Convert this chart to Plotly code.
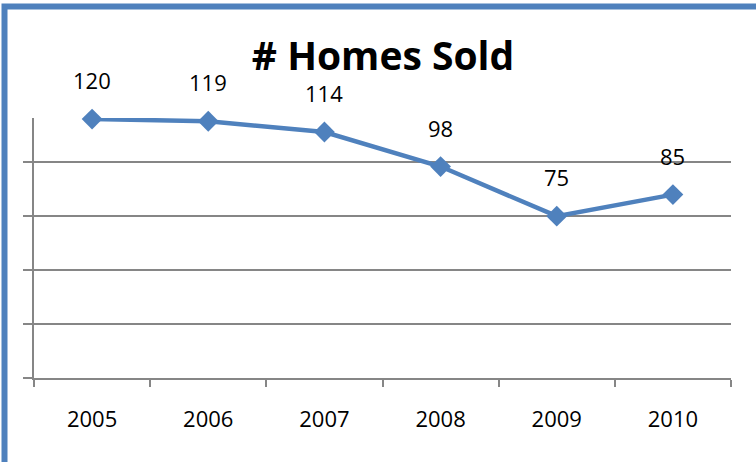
import plotly.graph_objects as go

years = ["2005", "2006", "2007", "2008", "2009", "2010"]
homes_sold = [120, 119, 114, 98, 75, 85]
grid_vals = [0, 25, 50, 75, 100]

W, H = 756, 462
L, R, T, B = 34, 25, 118, 84
pw, ph = W - L - R, H - T - B

def px_to_paper_x(px):
    return (px - L) / pw

def px_to_paper_y(py):
    return (H - B - py) / ph

blue = "#4F81BD"
grid = "#868686"
font = "Open Sans"

fig = go.Figure()
fig.add_trace(go.Scatter(
    x=years, y=homes_sold,
    mode="lines+markers",
    line=dict(color=blue, width=4.5),
    marker=dict(symbol="diamond", size=16, color=blue),
    cliponaxis=False,
    hoverinfo="skip",
))

for i, v in enumerate(homes_sold):
    fig.add_annotation(x=i, y=v, text=str(v), showarrow=False, yshift=39,
                       xref="x", yref="y",
                       font=dict(family=font, size=22, color="#000000"))

xl = px_to_paper_x(4.5)
yt = px_to_paper_y(6.5)
fig.add_shape(type="path",
              path=f"M {xl} {px_to_paper_y(470)} L {xl} {yt} L {px_to_paper_x(770)} {yt}",
              xref="paper", yref="paper",
              line=dict(color=blue, width=6), layer="above")

fig.update_layout(
    width=W, height=H,
    margin=dict(l=L, r=R, t=T, b=B),
    paper_bgcolor="white", plot_bgcolor="white",
    showlegend=False,
    title=dict(text="<b># Homes Sold</b>", x=(383) / W, xanchor="center",
               y=1 - 56 / H, yanchor="middle",
               font=dict(family=font, size=39, color="#000000")),
    xaxis=dict(type="category", showgrid=False, showline=True, linecolor=grid,
               linewidth=1.5, ticks="outside", tickson="boundaries", ticklen=7,
               tickcolor=grid, tickwidth=1.5, ticklabelstandoff=21,
               tickfont=dict(family=font, size=22, color="#000000"),
               range=[-0.5, 5.5], fixedrange=True, zeroline=False),
    yaxis=dict(range=[0, 120.5], tickvals=grid_vals, showticklabels=False,
               showgrid=True, gridcolor=grid, gridwidth=1.5,
               showline=True, linecolor=grid, linewidth=1.5,
               ticks="outside", ticklen=9, tickcolor=grid, tickwidth=1.5,
               zeroline=False, fixedrange=True),
)

fig.write_html("out.html", config={"displayModeBar": False},
               post_script="document.body.style.margin='0';document.body.style.padding='0';")
